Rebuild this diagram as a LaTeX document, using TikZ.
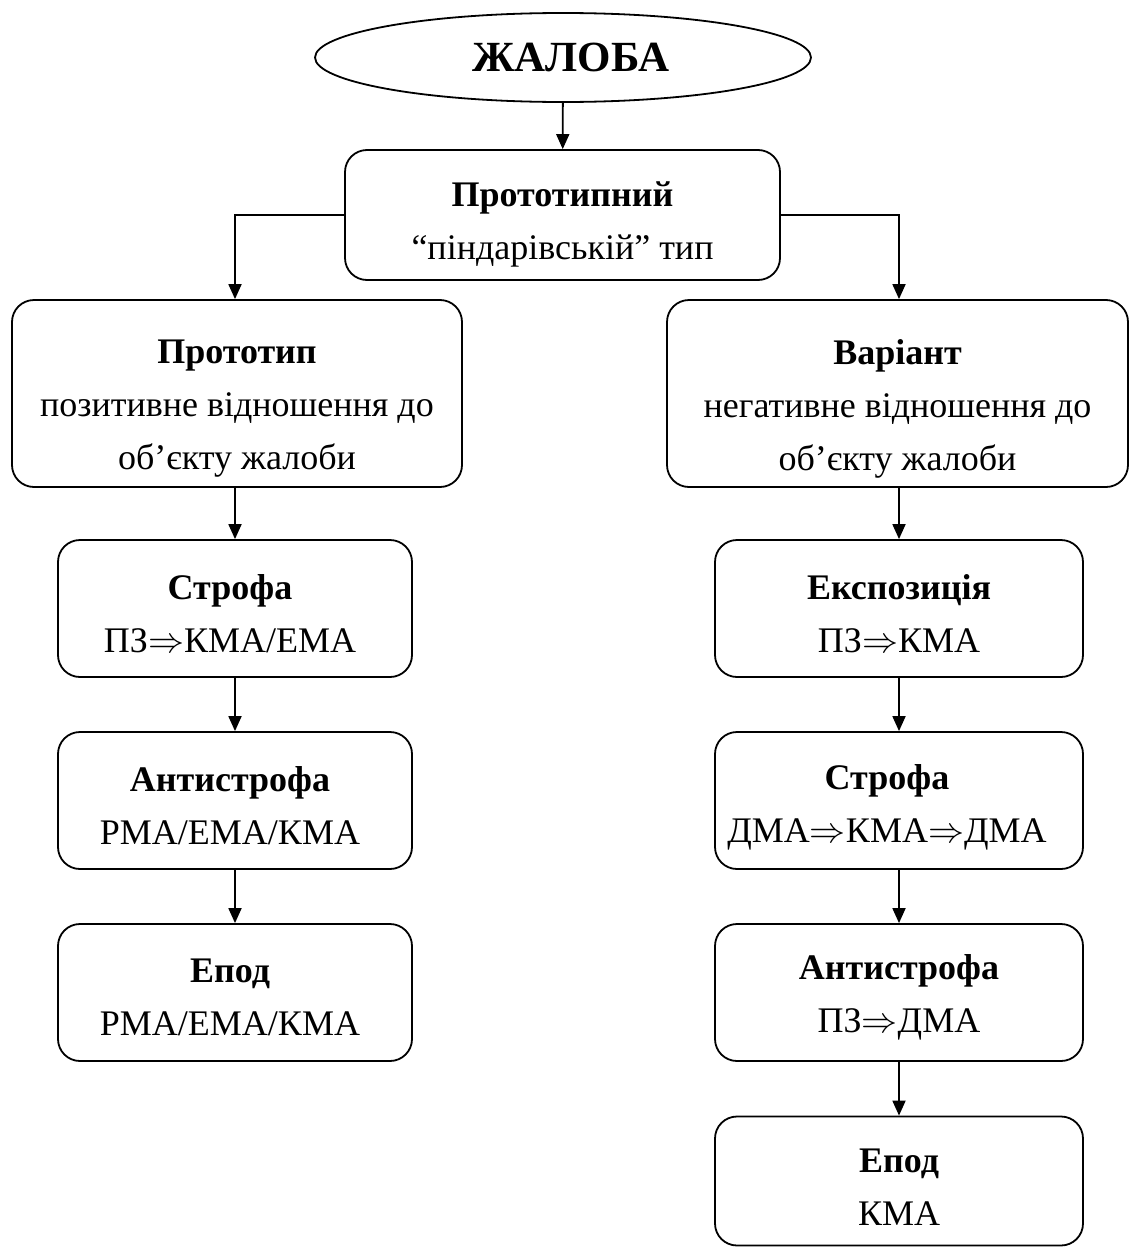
\RequirePackage{fix-cm}
\documentclass[tikz,border=0pt]{standalone}
\usepackage{fontspec}
\setmainfont{Liberation Serif}
\usetikzlibrary{arrows.meta,shapes.geometric}
\newcommand{\imp}{$\Rightarrow$}
\begin{document}
\begin{tikzpicture}[x=1pt,y=-1pt,
  frame/.style={draw,line width=1.8pt,rounded corners=22pt,inner sep=0pt},
  lbox/.style={frame,minimum width=354pt,minimum height=137pt},
  rbox/.style={frame,minimum width=368pt,minimum height=137pt},
  txt/.style={align=center,inner sep=0pt,font=\fontsize{36}{53}\selectfont},
  arr/.style={line width=1.8pt,-{Triangle[length=15pt,width=13pt]}},
]
\useasboundingbox (0,0) rectangle (1130,1250);

% root
\node[draw,ellipse,line width=1.8pt,minimum width=496pt,minimum height=89pt,
  inner sep=0pt] (root) at (563,57.5) {};
\node[font=\fontsize{43}{43}\selectfont\bfseries,inner sep=0pt] (roott)
  at ([xshift=8pt]root.center) {ЖАЛОБА};

% second level
\node[frame,minimum width=435pt,minimum height=130pt] (top) at (562.5,215) {};
\node[txt] (topt) at ([yshift=-9pt]top.center)
  {\textbf{Прототипний}\\“піндарівській” тип};

\node[frame,minimum width=450pt,minimum height=187pt] (proto) at (237,393.5) {};
\node[txt] (protot) at ([yshift=-15pt]proto.center)
  {\textbf{Прототип}\\позитивне відношення до\\об’єкту жалоби};
\node[frame,minimum width=461pt,minimum height=187pt] (var) at (897.5,393.5) {};
\node[txt] (vart) at ([yshift=-15pt]var.center)
  {\textbf{Варіант}\\негативне відношення до\\об’єкту жалоби};

% left column
\node[lbox] (l1) at (235,608.5) {};
\node[txt] (l1t) at ([xshift=-5pt,yshift=-5pt]l1.center) {\textbf{Строфа}\\ПЗ\imp КМА/ЕМА};
\node[lbox] (l2) at (235,800.5) {};
\node[txt] (l2t) at ([xshift=-5pt,yshift=-5pt]l2.center) {\textbf{Антистрофа}\\РМА/ЕМА/КМА};
\node[lbox] (l3) at (235,992.5) {};
\node[txt] (l3t) at ([xshift=-5pt,yshift=-5pt]l3.center) {\textbf{Епод}\\РМА/ЕМА/КМА};

% right column
\node[rbox] (r1) at (899,608.5) {};
\node[txt] (r1t) at ([yshift=-5pt]r1.center) {\textbf{Експозиція}\\ПЗ\imp КМА};
\node[rbox] (r2) at (899,800.5) {};
\node[txt] (r2t) at ([xshift=-12pt,yshift=-7pt]r2.center) {\textbf{Строфа}\\ДМА\imp КМА\imp ДМА};
\node[rbox] (r3) at (899,992.5) {};
\node[txt] (r3t) at ([yshift=-5pt]r3.center) {\textbf{Антистрофа}\\ПЗ\imp ДМА};
\node[rbox,minimum height=129pt] (r4) at (899,1181) {};
\node[txt] (r4t) at ([yshift=-6pt]r4.center) {\textbf{Епод}\\КМА};

% connectors
\draw[arr] (root) -- (top);
\draw[arr] (top.west) -| (l1.north |- proto.north);
\draw[arr] (top.east) -| (r1.north |- var.north);
\draw[arr] (l1.north |- proto.south) -- (l1.north);
\draw[arr] (l1) -- (l2);
\draw[arr] (l2) -- (l3);
\draw[arr] (r1.north |- var.south) -- (r1.north);
\draw[arr] (r1) -- (r2);
\draw[arr] (r2) -- (r3);
\draw[arr] (r3) -- (r4);
\end{tikzpicture}
\end{document}
